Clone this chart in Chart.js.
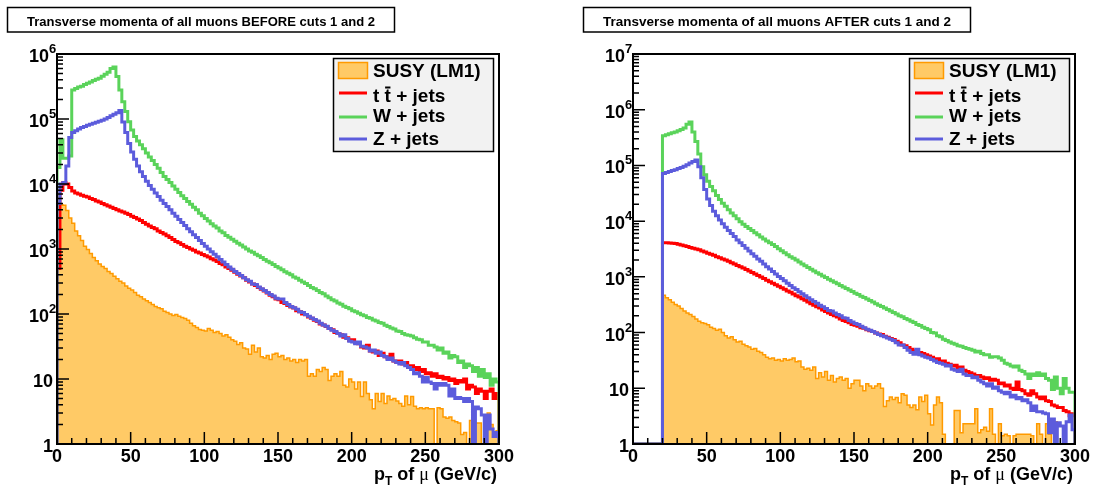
<!DOCTYPE html>
<html>
<head>
<meta charset="utf-8">
<script src="https://cdn.jsdelivr.net/npm/chart.js@4.4.1/dist/chart.umd.min.js"></script>
<style>
  html, body { margin: 0; padding: 0; background: #fff; }
  #wrap { position: relative; width: 1094px; height: 487px; overflow: hidden; }
  canvas { position: absolute; top: 0; }
  #before { left: 0; }
  #after { left: 576px; }
</style>
</head>
<body>
<div id="wrap">
  <canvas id="before" width="576" height="487"></canvas>
  <canvas id="after" width="518" height="487"></canvas>
</div>
<script>
// muon pT spectra, 2 GeV/c bins from 0 to 300 GeV/c (entries per bin)
const PT_MIN = 0, PT_MAX = 300, BIN_WIDTH = 2;

const susyBefore = [
  3000, 4800, 4700, 3900, 3000, 2500, 1900, 1600, 1350, 1100,
  980, 850, 740, 660, 590, 540, 500, 450, 420, 380,
  350, 320, 300, 270, 250, 235, 215, 195, 185, 170,
  160, 150, 140, 130, 125, 120, 110, 105, 100, 95,
  98, 92, 88, 85, 80, 72, 66, 62, 58, 56,
  55, 60, 56, 52, 54, 50, 46, 48, 44, 40,
  38, 34, 36, 30, 29, 24, 33, 26, 30, 22,
  21, 23, 20, 24, 25, 22, 23, 20, 21, 19,
  20, 18, 20, 19, 20, 11, 12, 11, 14, 13,
  15, 14, 9.5, 11, 12, 11, 13, 8, 7.5, 10,
  9, 7, 9, 5.4, 9, 6, 4.8, 3.5, 6, 4.5,
  6, 4.2, 5.5, 4.8, 5, 4.6, 4.2, 3.8, 5.5, 4,
  5.4, 3.8, 3.5, 3.6, 3.5, 3.6, 3.5, 3.5, 0, 3.6,
  3.5, 2.6, 2.5, 2.6, 2.3, 2.2, 2.1, 1.4, 1.5, 0,
  2.3, 0, 2.1, 2.1, 0, 1.5, 3, 2, 1.4, 1.6
];
const ttbarBefore = [
  500, 8000, 10500, 10000, 8800, 7800, 7300, 7000, 6700, 6500,
  6300, 6000, 5800, 5500, 5300, 5000, 4800, 4600, 4400, 4200,
  4000, 3850, 3700, 3550, 3400, 3200, 3050, 2900, 2750, 2550,
  2400, 2250, 2150, 2050, 1900, 1800, 1700, 1600, 1500, 1400,
  1300, 1250, 1170, 1100, 1050, 1000, 960, 900, 870, 820,
  790, 750, 710, 680, 640, 600, 570, 530, 500, 470,
  440, 410, 385, 360, 330, 310, 290, 275, 255, 240,
  225, 210, 195, 185, 170, 165, 150, 145, 135, 128,
  124, 112, 108, 100, 97, 90, 86, 80, 77, 70,
  68, 64, 60, 57, 52, 50, 48, 44, 43, 39,
  40, 36, 35, 31, 30, 33, 27, 26, 27, 23,
  25, 22, 21, 24, 19, 18, 19, 17, 18, 15,
  16, 14, 15, 13, 14, 12, 12.5, 11, 12, 10.5,
  11, 10, 10.5, 9.5, 10, 8.5, 9.5, 9, 10, 7,
  8, 7.5, 6, 7, 6.5, 5, 6.5, 7, 5, 6
];
const wjetsBefore = [
  18000, 48000, 25000, 25000, 27000, 280000, 295000, 310000, 320000, 340000,
  355000, 370000, 390000, 410000, 425000, 455000, 490000, 525000, 600000, 630000,
  450000, 280000, 185000, 130000, 91000, 68000, 54000, 46000, 40000, 35000,
  30000, 26000, 23000, 20000, 17500, 15000, 13000, 11700, 10500, 9300,
  8300, 7400, 6600, 6000, 5400, 4900, 4400, 4000, 3550, 3250,
  2950, 2700, 2450, 2250, 2100, 1900, 1780, 1620, 1510, 1410,
  1320, 1230, 1150, 1070, 1000, 930, 890, 830, 790, 740,
  690, 650, 615, 575, 540, 510, 480, 445, 425, 400,
  370, 355, 330, 310, 295, 275, 255, 245, 230, 215,
  205, 190, 178, 166, 158, 148, 141, 132, 126, 120,
  112, 108, 103, 97, 94, 88, 86, 81, 78, 74,
  72, 67, 64, 61, 59, 55, 54, 50, 48, 47,
  46, 43, 41, 40, 37, 37, 33, 33, 31, 28,
  30, 25, 26, 21, 23, 22, 18, 19, 15, 17,
  16, 13, 15, 11, 14, 10.5, 12, 8, 10, 9
];
const zjetsBefore = [
  5000, 10000, 10500, 19000, 52000, 62000, 66000, 70000, 74000, 77000,
  80000, 83000, 86000, 89000, 92000, 96000, 100000, 105000, 112000, 118000,
  125000, 135000, 90000, 62000, 42000, 31000, 24000, 19000, 15500, 13000,
  11000, 9500, 8300, 7300, 6400, 5600, 5000, 4500, 4000, 3550,
  3200, 2850, 2550, 2300, 2050, 1850, 1650, 1500, 1350, 1220,
  1100, 1000, 910, 830, 760, 690, 630, 580, 530, 490,
  450, 420, 390, 360, 335, 320, 290, 285, 260, 245,
  230, 215, 200, 190, 175, 170, 170, 150, 140, 130,
  125, 118, 108, 105, 98, 92, 87, 82, 78, 72,
  68, 65, 60, 56, 54, 50, 46, 48, 42, 38,
  37, 35, 37, 32, 31, 30, 27, 28, 25, 26,
  23, 22, 20, 21, 19, 18, 17, 18, 16, 15,
  14, 12, 12.5, 11, 9, 10.5, 9, 8.5, 7, 8.5,
  8, 8.5, 8, 5.5, 7, 5, 5.2, 5, 4.5, 5,
  4.5, 0, 3.7, 3.5, 2.8, 0, 2.8, 1.7, 1.3, 1.5
];

const susyAfter = [
  0, 0, 0, 0, 0, 0, 0, 0, 0, 0,
  470, 420, 390, 350, 320, 300, 270, 245, 225, 210,
  195, 175, 160, 150, 145, 138, 125, 118, 110, 115,
  100, 88, 80, 84, 74, 68, 70, 62, 58, 55,
  50, 52, 46, 44, 40, 36, 34, 35, 32, 33,
  31, 34, 32, 33, 35, 30, 31, 24, 22, 23,
  21, 24, 15, 19, 16, 20, 14, 17, 13, 15,
  16, 14, 15, 10, 12, 14, 14, 11, 9, 12,
  11, 10, 11, 12, 10, 4.7, 6, 7, 6.3, 6.8,
  5.5, 8, 7.5, 5, 4.5, 5, 4.1, 7, 5.8, 7.5,
  3.5, 2.2, 5, 7, 5.5, 1.5, 0, 0, 0, 4,
  4, 1.6, 2.3, 2.3, 2.3, 2.3, 4.3, 1.6, 1.8, 2,
  1.7, 4.3, 1.5, 0, 2.3, 1.4, 1.5, 1.4, 0, 1.4,
  1.5, 1.5, 1.5, 1.5, 1.5, 1.4, 0, 2.3, 1.5, 0,
  2.3, 1.5, 0, 2.5, 0, 0, 0, 0, 0, 0
];
const ttbarAfter = [
  0, 0, 0, 0, 0, 0, 0, 0, 0, 0,
  4100, 4100, 4050, 4000, 3950, 3850, 3750, 3600, 3500, 3350,
  3250, 3150, 3050, 2900, 2800, 2650, 2550, 2450, 2300, 2200,
  2100, 2000, 1900, 1800, 1700, 1600, 1520, 1440, 1350, 1270,
  1200, 1130, 1060, 990, 930, 870, 820, 770, 720, 680,
  640, 600, 560, 530, 490, 460, 435, 405, 380, 355,
  330, 310, 290, 275, 255, 240, 225, 210, 200, 190,
  175, 165, 158, 150, 140, 135, 130, 122, 120, 112,
  108, 104, 98, 94, 92, 86, 82, 78, 75, 70,
  66, 60, 58, 54, 50, 47, 44, 44, 42, 40,
  38, 36, 34, 34, 30, 31, 28, 27, 25, 26,
  22, 24, 21, 20, 19, 18, 16.5, 17, 16, 15,
  15.5, 14, 14.5, 14, 12, 12.5, 11, 11.5, 10, 9.5,
  13, 9.5, 9, 8, 7.5, 9, 8, 7, 6.5, 7,
  6, 5.8, 5, 4.8, 4.5, 4.5, 4, 3.8, 3.2, 3.5
];
const wjetsAfter = [
  0, 0, 0, 0, 0, 0, 0, 0, 0, 0,
  340000, 355000, 370000, 385000, 400000, 420000, 440000, 470000, 550000, 600000,
  400000, 270000, 160000, 95000, 68000, 52000, 42000, 35000, 29000, 24500,
  21000, 18500, 16000, 14000, 12500, 11000, 9800, 8800, 8000, 7400,
  6800, 6200, 5700, 5200, 4800, 4400, 4100, 3800, 3500, 3200,
  2950, 2700, 2500, 2300, 2150, 2000, 1850, 1700, 1580, 1470,
  1370, 1280, 1190, 1110, 1040, 970, 910, 850, 800, 750,
  700, 660, 620, 580, 545, 510, 480, 450, 425, 400,
  375, 355, 330, 310, 295, 275, 260, 245, 230, 215,
  200, 192, 178, 170, 160, 152, 140, 134, 124, 118,
  112, 100, 98, 88, 84, 76, 72, 68, 64, 62,
  58, 57, 54, 52, 50, 48, 45, 46, 42, 40,
  40, 36, 37, 37, 35, 32, 28, 27, 25, 24,
  25, 21, 20, 18, 15, 18, 17, 19, 17, 18,
  15, 14, 9.5, 16, 10, 8, 15, 10, 8.5, 8.5
];
const zjetsAfter = [
  0, 0, 0, 0, 0, 0, 0, 0, 0, 0,
  72000, 75000, 78000, 81000, 84000, 88000, 92000, 97000, 103000, 110000,
  118000, 125000, 95000, 60000, 37000, 25000, 19000, 15000, 12500, 10500,
  9000, 7800, 6800, 6000, 5300, 4600, 4100, 3650, 3250, 2900,
  2600, 2350, 2100, 1900, 1700, 1520, 1380, 1250, 1130, 1020,
  930, 850, 770, 700, 640, 590, 540, 500, 460, 420,
  390, 360, 335, 310, 290, 270, 250, 245, 225, 210,
  200, 185, 180, 165, 155, 145, 140, 130, 122, 115,
  110, 104, 98, 92, 88, 84, 80, 76, 72, 66,
  60, 60, 54, 48, 44, 41, 50, 40, 38, 36,
  35, 33, 31, 29, 28, 27, 25, 26, 22, 21,
  20, 22, 18, 17, 17, 15.5, 16, 14, 13, 12,
  11, 12, 10, 10.5, 9, 8.5, 8, 8.5, 7, 7.5,
  6.5, 6.8, 6, 6.2, 5.5, 4, 4.8, 3.8, 3.8, 3.6,
  3.5, 1.6, 2.8, 0, 2.4, 2.1, 0, 2.5, 3.3, 1.8
];

// axis ticks
const xTickLabels = [0, 50, 100, 150, 200, 250, 300];
const X_MINOR_STEP = 10;
const decadesBefore = [0, 1, 2, 3, 4, 5, 6];
const decadesAfter = [0, 1, 2, 3, 4, 5, 6, 7];
const Y_FLOOR = 1; // bottom of the log axis; empty bins are drawn down to it

const SERIES = [
  { label: 'SUSY (LM1)', line: '#ff9a00', fill: '#ffca66', width: 1.5 },
  { label: 't t\u0304 + jets', line: '#ff0000', width: 3 },
  { label: 'W + jets', line: '#5ad35a', width: 3 },
  { label: 'Z + jets', line: '#5c5cdc', width: 3 }
];

const FONT = '"Liberation Sans", Arial, Helvetica, sans-serif';

// outline of a histogram: up from the floor at the first edge, steps, down at the last edge
function histPoints(counts) {
  const pts = [{ x: PT_MIN, y: Y_FLOOR }];
  counts.forEach((c, i) => pts.push({ x: PT_MIN + i * BIN_WIDTH, y: Math.max(c, Y_FLOOR) }));
  pts.push({ x: PT_MAX, y: Math.max(counts[counts.length - 1], Y_FLOOR) });
  pts.push({ x: PT_MAX, y: Y_FLOOR });
  return pts;
}

// text with a combining macron drawn as a bar over the previous letter
function drawBarText(ctx, text, x, y) {
  let cx = x;
  for (let i = 0; i < text.length; i++) {
    const ch = text[i];
    if (ch === '\u0304') continue;
    const w = ctx.measureText(ch).width;
    ctx.fillText(ch, cx, y);
    if (text[i + 1] === '\u0304') ctx.fillRect(cx + 0.5, y - 15.5, w - 1, 2);
    cx += w;
  }
}

const rootFrame = {
  id: 'rootFrame',
  afterDatasetsDraw(chart, args, opts) {
    const { ctx, chartArea: area, scales: { x, y } } = chart;
    ctx.save();
    ctx.fillStyle = '#000';
    ctx.strokeStyle = '#000';

    // ticks inside the frame
    ctx.lineWidth = 1.5;
    ctx.beginPath();
    for (let v = PT_MIN; v <= PT_MAX; v += X_MINOR_STEP) {
      const px = x.getPixelForValue(v);
      const len = xTickLabels.includes(v) ? 12 : 6;
      ctx.moveTo(px, area.bottom);
      ctx.lineTo(px, area.bottom - len);
    }
    const topDecade = opts.decades[opts.decades.length - 1];
    opts.decades.forEach(d => {
      for (let m = 1; m <= 9; m++) {
        if (d === topDecade && m > 1) break;
        const py = y.getPixelForValue(m * Math.pow(10, d));
        ctx.moveTo(area.left, py);
        ctx.lineTo(area.left + (m === 1 ? 12 : 6), py);
      }
    });
    ctx.stroke();

    // frame
    ctx.lineWidth = 2;
    ctx.strokeRect(area.left, area.top, area.right - area.left, area.bottom - area.top);

    // x tick labels
    ctx.font = 'bold 18px ' + FONT;
    ctx.textAlign = 'center';
    ctx.textBaseline = 'alphabetic';
    xTickLabels.forEach(v => ctx.fillText(String(v), x.getPixelForValue(v), area.bottom + 18));

    // y tick labels: 1, 10, 10^n
    opts.decades.forEach(d => {
      const py = y.getPixelForValue(Math.pow(10, d));
      if (d < 2) {
        ctx.font = 'bold 18px ' + FONT;
        ctx.textAlign = 'right';
        ctx.fillText(d === 0 ? '1' : '10', area.left - 4, py + 8);
      } else {
        ctx.font = 'bold 18px ' + FONT;
        ctx.textAlign = 'right';
        ctx.fillText('10', area.left - 8, py + 8);
        ctx.font = 'bold 13px ' + FONT;
        ctx.textAlign = 'left';
        ctx.fillText(String(d), area.left - 8, py - 1);
      }
    });

    // x axis title, right aligned to the frame
    const parts = [
      { t: 'p', f: 'bold 18px ' + FONT, dy: 0 },
      { t: 'T', f: 'bold 12px ' + FONT, dy: 5 },
      { t: ' of ', f: 'bold 18px ' + FONT, dy: 0 },
      { t: '\u03bc', f: '18px "Liberation Serif", "DejaVu Serif", serif', dy: 0 },
      { t: ' (GeV/c)', f: 'bold 18px ' + FONT, dy: 0 }
    ];
    let total = 0;
    parts.forEach(p => { ctx.font = p.f; p.w = ctx.measureText(p.t).width; total += p.w; });
    let cx = area.right - 2 - total;
    ctx.textAlign = 'left';
    parts.forEach(p => { ctx.font = p.f; ctx.fillText(p.t, cx, area.bottom + 36 + p.dy); cx += p.w; });

    // title box
    ctx.lineWidth = 1.5;
    ctx.fillStyle = '#fff';
    ctx.fillRect(7.5, 7.5, 387, 24.5);
    ctx.strokeRect(7.5, 7.5, 387, 24.5);
    ctx.fillStyle = '#000';
    ctx.font = 'bold 13px ' + FONT;
    const tw = ctx.measureText(opts.title).width;
    const size = 13 * 348 / tw;
    ctx.font = 'bold ' + size.toFixed(2) + 'px ' + FONT;
    ctx.textAlign = 'center';
    ctx.fillText(opts.title, 7.5 + 387 / 2, 26);

    // legend
    const lx = 333.5, ly = 58.5, lw = 160, lh = 93;
    ctx.fillStyle = '#f2f2f2';
    ctx.fillRect(lx, ly, lw, lh);
    ctx.lineWidth = 1.5;
    ctx.strokeRect(lx, ly, lw, lh);
    const baselines = [77, 102, 122, 145];
    const lineYs = [70, 93, 117, 139];
    ctx.font = 'bold 19px ' + FONT;
    ctx.textAlign = 'left';
    chart.data.datasets.forEach((ds, k) => {
      const st = SERIES[k];
      if (st.fill) {
        ctx.fillStyle = st.fill;
        ctx.fillRect(338.5, 62.5, 29, 16);
        ctx.strokeStyle = st.line;
        ctx.lineWidth = 1.5;
        ctx.strokeRect(338.5, 62.5, 29, 16);
      } else {
        ctx.strokeStyle = st.line;
        ctx.lineWidth = 3;
        ctx.beginPath();
        ctx.moveTo(339, lineYs[k]);
        ctx.lineTo(367, lineYs[k]);
        ctx.stroke();
      }
      ctx.fillStyle = '#000';
      drawBarText(ctx, ds.label, 373, baselines[k]);
    });
    ctx.restore();
  }
};

function makeChart(id, title, decades, seriesData, padRight) {
  const datasets = seriesData.map((counts, k) => ({
    label: SERIES[k].label,
    data: histPoints(counts),
    borderColor: SERIES[k].line,
    backgroundColor: SERIES[k].fill || 'rgba(0,0,0,0)',
    borderWidth: SERIES[k].width,
    fill: SERIES[k].fill ? 'start' : false,
    stepped: true,
    pointRadius: 0,
    borderJoinStyle: 'miter',
    borderCapStyle: 'butt',
    order: seriesData.length - k
  }));
  return new Chart(document.getElementById(id), {
    type: 'line',
    data: { datasets },
    options: {
      responsive: false,
      animation: false,
      devicePixelRatio: 1,
      events: [],
      layout: { padding: { left: 57, top: 54, right: padRight, bottom: 43 } },
      plugins: {
        legend: { display: false },
        tooltip: { enabled: false },
        rootFrame: { title, decades }
      },
      scales: {
        x: { type: 'linear', min: PT_MIN, max: PT_MAX, display: false },
        y: { type: 'logarithmic', min: Y_FLOOR, max: Math.pow(10, decades[decades.length - 1]), display: false }
      }
    },
    plugins: [rootFrame]
  });
}

makeChart('before', 'Transverse momenta of all muons BEFORE cuts 1 and 2', decadesBefore,
  [susyBefore, ttbarBefore, wjetsBefore, zjetsBefore], 77);
makeChart('after', 'Transverse momenta of all muons AFTER cuts 1 and 2', decadesAfter,
  [susyAfter, ttbarAfter, wjetsAfter, zjetsAfter], 19);
</script>
</body>
</html>
